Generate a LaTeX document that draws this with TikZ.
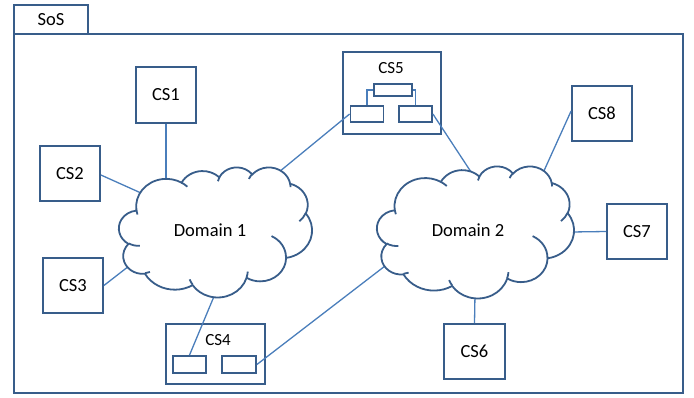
\documentclass[tikz,border=0pt]{standalone}
\usepackage{fontspec}
\setmainfont{Carlito}
\definecolor{boxc}{RGB}{56,93,138}
\definecolor{linkc}{RGB}{74,126,187}

% one elliptical arc given by radii, start angle and sweep (angles measured
% as seen, converted to the parametric angles TikZ expects)
\newcommand\ooarc[4]{arc[start angle={pa(#1,#2,#3)}, delta angle={pd(#1,#2,#3,#4)}, x radius=#1, y radius=#2]}

% cloud outline in a 43.2 x 43.2 frame (y pointing down)
\newcommand\cloudpath{%
 (3.900,14.370)
 \ooarc{6.753}{9.190}{-190.4875}{123.7805}
 \ooarc{5.333}{7.267}{-144.1024}{89.9452}
 \ooarc{4.365}{5.945}{-145.8079}{99.7230}
 \ooarc{4.857}{6.595}{-130.9861}{117.2417}
 \ooarc{5.333}{7.273}{-78.7089}{109.0269}
 \ooarc{6.775}{9.220}{-46.2673}{130.2690}
 \ooarc{5.785}{7.867}{0.6250}{114.0333}
 \ooarc{6.752}{9.215}{22.4516}{115.1726}
 \ooarc{7.720}{10.543}{66.2426}{75.7110}
 \ooarc{4.360}{5.918}{-274.9421}{146.7356}
 \ooarc{4.345}{5.945}{-246.8285}{152.5189}
 -- cycle}

% the small inner creases between the puffs
\newcommand\cloudcreases{%
 (4.693,26.177) \ooarc{4.345}{5.945}{86.7420}{26.4295}
 (6.928,34.899) \ooarc{4.360}{5.918}{73.6105}{11.4475}
 (16.478,39.090) \ooarc{6.752}{9.215}{137.6242}{14.0811}
 (28.827,34.751) \ooarc{6.752}{9.215}{6.4533}{15.9984}
 (34.129,22.954) \ooarc{5.785}{7.867}{-70.2924}{70.9174}
 (41.798,15.354) \ooarc{5.333}{7.273}{30.3180}{27.7515}
 (38.324,5.426) \ooarc{4.857}{6.595}{-13.7443}{14.8589}
 (29.078,3.952) \ooarc{4.857}{6.595}{-149.1815}{18.1954}
 (22.141,4.720) \ooarc{4.365}{5.945}{-163.4943}{17.6864}
 (14.000,5.192) \ooarc{6.753}{9.190}{-66.7070}{12.3194}
 (4.127,15.789) \ooarc{6.753}{9.190}{157.6544}{11.8582}}

\begin{document}
\begin{tikzpicture}[x=1pt,y=-1pt,
  declare function={
    pa(\w,\h,\a)=atan2(\w*sin(\a),\h*cos(\a));
    pd(\w,\h,\a,\s)=mod(pa(\w,\h,\a+\s)-pa(\w,\h,\a)+720,360);
  },
  frame/.style={draw=boxc, line width=1.8pt},
  box/.style={draw=boxc, line width=1.8pt, fill=white, inner sep=0pt},
  csbox/.style={box, minimum width=60pt, minimum height=55pt},
  smallbox/.style={box, minimum width=33pt, minimum height=16pt},
  link/.style={draw=linkc, line width=1.3pt},
  cloudline/.style={draw=boxc, line width=1.8pt},
  lbl/.style={font=\fontsize{18.5}{20}\selectfont, inner sep=0pt},
  slbl/.style={font=\fontsize{17}{19}\selectfont, inner sep=0pt}]
\useasboundingbox (0,0) rectangle (694,397);

% system-of-systems frame with its tab
\draw[frame] (14,34) rectangle (683,393);
\node[box, lbl, minimum width=74pt, minimum height=29pt] (sos) at (51,19.5) {SoS};

% constituent systems
\node[csbox, lbl, minimum height=56pt] (cs1) at (166,95) {CS1};
\node[csbox, lbl] (cs2) at (70,173.5) {CS2};
\node[csbox, lbl] (cs3) at (73,285.5) {CS3};
\node[csbox, lbl, minimum width=61pt] (cs6) at (474.5,351.5) {CS6};
\node[csbox, lbl] (cs7) at (637,231.5) {CS7};
\node[csbox, lbl] (cs8) at (602,113.5) {CS8};

% CS5 with its three internal parts
\node[box, minimum width=98pt, minimum height=82pt] (cs5) at (392,93) {};
\node[slbl] (cs5l) at (391,68) {CS5};
\node[box, minimum width=38pt, minimum height=12pt] (cs5t) at (393,90) {};
\node[smallbox] (cs5a) at (367,114) {};
\node[smallbox] (cs5b) at (415.5,114) {};
\draw[link] (cs5t.west) -| (cs5a.north);
\draw[link] (cs5t.east) -| (cs5b.north);

% CS4 with its two internal parts
\node[box, minimum width=99pt, minimum height=60pt] (cs4) at (215.5,354) {};
\node[slbl] (cs4l) at (218,340) {CS4};
\node[smallbox, minimum height=17pt] (cs4a) at (189.5,364.5) {};
\node[smallbox, minimum width=34pt, minimum height=17pt] (cs4b) at (239,364.5) {};

% attachment points on the two clouds
\coordinate (d1a) at (166,184);
\coordinate (d1b) at (141,193);
\coordinate (d1c) at (129,266);
\coordinate (d1d) at (215,294);
\coordinate (d1e) at (279,172);
\coordinate (d2a) at (385,266);
\coordinate (d2b) at (475,178);
\coordinate (d2c) at (543,173);
\coordinate (d2d) at (571,232);
\coordinate (d2e) at (475,294);

% connectors
\draw[link] (cs1.south) -- (d1a);
\draw[link] (cs2.east |- 0,175) -- (d1b);
\draw[link] (cs3.east) -- (d1c);
\draw[link] (d1d) -- (cs4a.north);
\draw[link] (d1e) -- (cs5a.west);
\draw[link] (cs5b.east) -- (d2b);
\draw[link] (cs4b.east) -- (d2a);
\draw[link] (cs8.west |- 0,111) -- (d2c);
\draw[link] (cs7.west) -- (d2d);
\draw[link] (cs6.north) -- (d2e);

% Domain 1 cloud
\begin{scope}[shift={(119,167)}, x=4.4676pt, y=-3.0093pt]
  \fill[white] \cloudpath;
  \draw[cloudline] \cloudpath;
  \draw[cloudline] \cloudcreases;
\end{scope}
\node[lbl] (dom1) at (210,230) {Domain 1};

% Domain 2 cloud
\begin{scope}[shift={(377,166)}, x=4.5602pt, y=-3.0556pt]
  \fill[white] \cloudpath;
  \draw[cloudline] \cloudpath;
  \draw[cloudline] \cloudcreases;
\end{scope}
\node[lbl] (dom2) at (468,230) {Domain 2};
\end{tikzpicture}
\end{document}
